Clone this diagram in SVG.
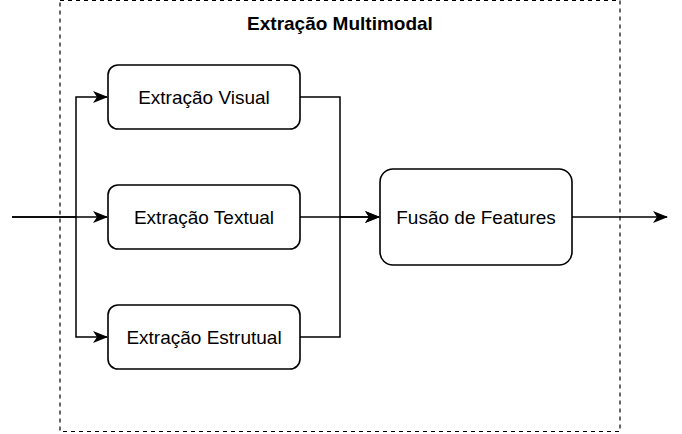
<svg xmlns="http://www.w3.org/2000/svg" width="682" height="434" viewBox="0 0 682 434">
<style>
.box{fill:#fff;stroke:#000;stroke-width:1.6}
.lbl{font-family:"Liberation Sans",Arial,sans-serif;font-size:19px;fill:#000;text-anchor:middle;dominant-baseline:central}
.ttl{font-family:"Liberation Sans",Arial,sans-serif;font-size:19px;font-weight:bold;fill:#000;text-anchor:middle;dominant-baseline:central}
.edge{fill:none;stroke:#000;stroke-width:1.5}
</style>
<defs>
<marker id="arr" viewBox="0 0 15 12" refX="14" refY="6" markerWidth="15" markerHeight="12" markerUnits="userSpaceOnUse" orient="auto" overflow="visible">
<path d="M0,0 L15,6 L0,12 L4,6 Z" fill="#000"/>
</marker>
</defs>
<g id="container">
<rect x="60" y="0.5" width="560" height="431" fill="none" stroke="#000" stroke-width="1.2" stroke-dasharray="4 4"/>
<text class="ttl" x="340" y="23">Extração Multimodal</text>
</g>
<g id="visual"><rect class="box" x="108" y="65" width="192" height="64" rx="10"/><text class="lbl" x="204" y="97">Extração Visual</text></g>
<g id="textual"><rect class="box" x="108" y="185" width="192" height="64" rx="10"/><text class="lbl" x="204" y="217">Extração Textual</text></g>
<g id="estrutural"><rect class="box" x="108" y="305" width="192" height="64" rx="10"/><text class="lbl" x="204" y="337">Extração Estrutual</text></g>
<g id="fusao"><rect class="box" x="380" y="169" width="192" height="96" rx="13"/><text class="lbl" x="476" y="217">Fusão de Features</text></g>
<g id="connectors">
<path class="edge" d="M12,217 L76,217 L76,97 L107,97" marker-end="url(#arr)"/>
<path class="edge" d="M12,217 L107,217" marker-end="url(#arr)"/>
<path class="edge" d="M76,217 L76,337 L107,337" marker-end="url(#arr)"/>
<path class="edge" d="M300,97 L340,97 L340,217 L379,217" marker-end="url(#arr)"/>
<path class="edge" d="M300,217 L379,217" marker-end="url(#arr)"/>
<path class="edge" d="M300,337 L340,337 L340,217"/>
<path class="edge" d="M572,217 L667,217" marker-end="url(#arr)"/>
</g>
</svg>
